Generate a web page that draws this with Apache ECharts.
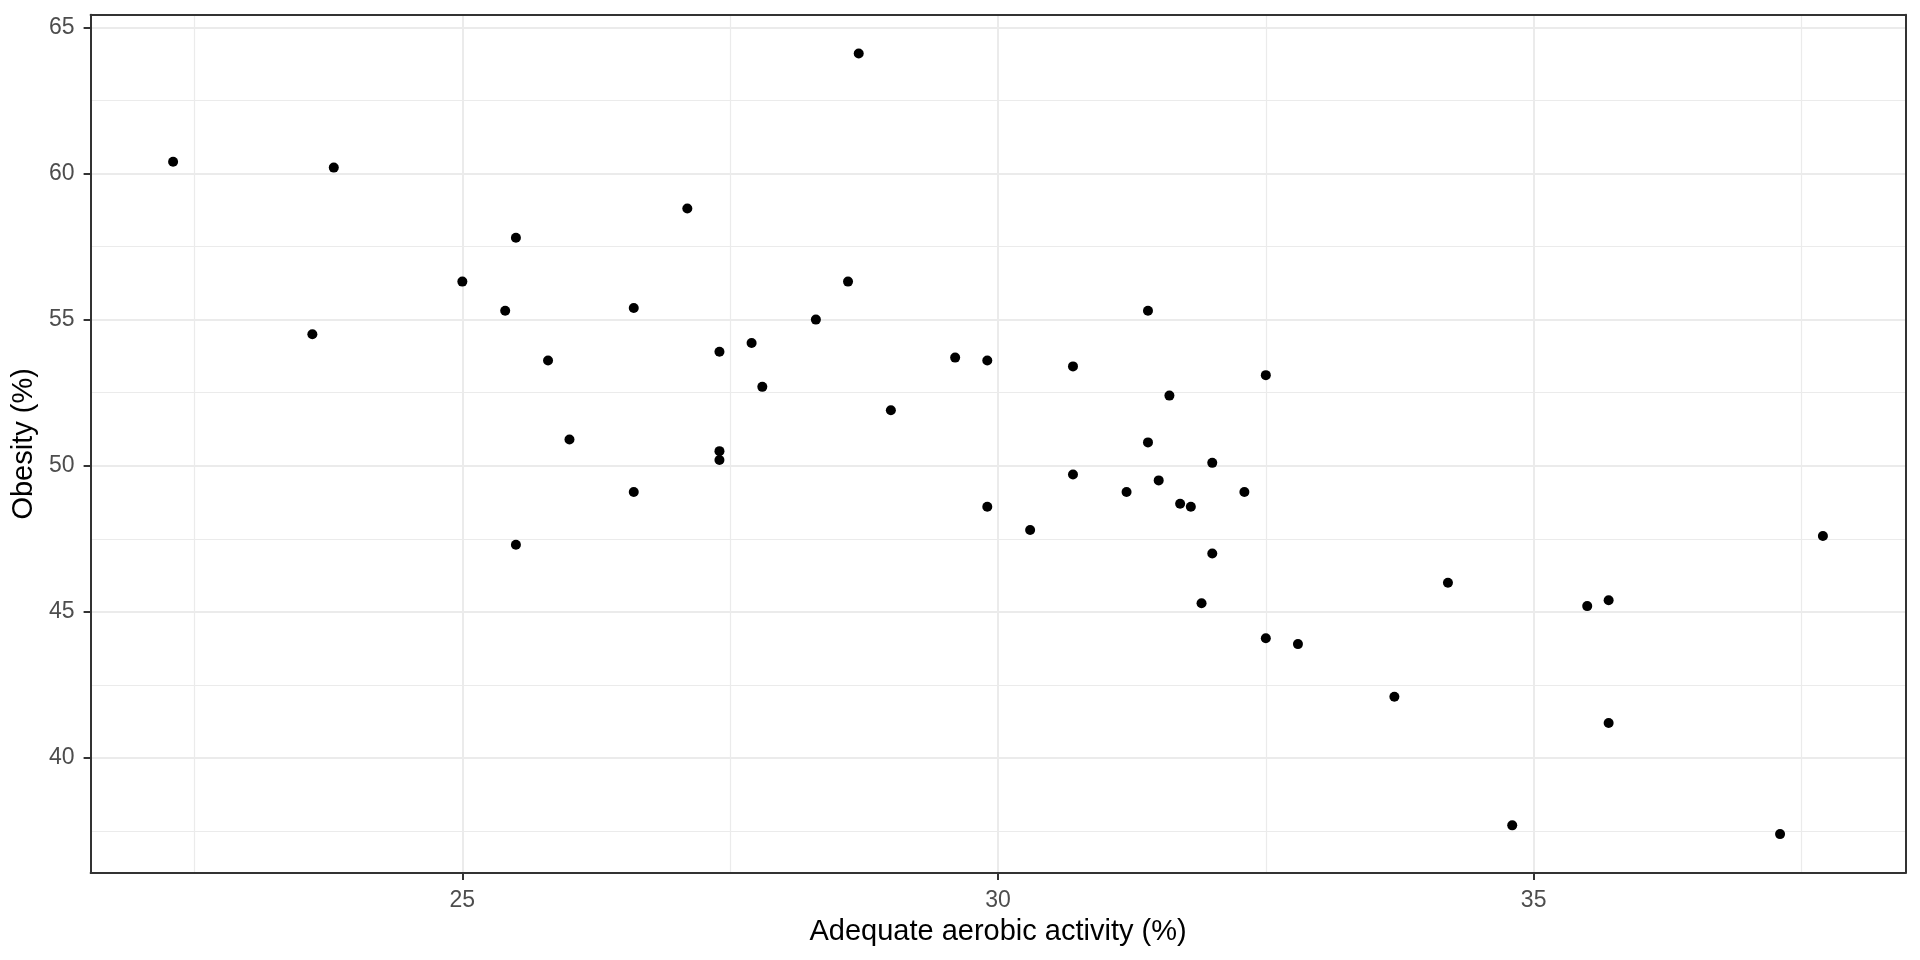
<!DOCTYPE html>
<html>
<head>
<meta charset="utf-8">
<script src="https://cdn.jsdelivr.net/npm/echarts@6/dist/echarts.min.js"></script>
<style>
  html, body { margin: 0; padding: 0; background: #fff; }
  #chart { width: 1920px; height: 960px; }
</style>
</head>
<body>
<div id="chart"></div>
<script>
// values
const aerobic = [
  22.3, 23.8, 23.6, 25.0, 25.5, 25.4, 25.8, 26.0, 25.5, 26.6,
  26.6, 27.1, 27.4, 27.4, 27.4, 27.7, 27.8, 28.3, 28.6, 28.7,
  29.0, 29.6, 29.9, 29.9, 30.3, 30.7, 30.7, 31.2, 31.4, 31.4,
  31.5, 31.6, 31.7, 31.8, 31.9, 32.0, 32.0, 32.3, 32.5, 32.5,
  32.8, 33.7, 34.2, 34.8, 35.5, 35.7, 35.7, 37.3, 37.7
];
const obesity = [
  60.4, 60.2, 54.5, 56.3, 57.8, 55.3, 53.6, 50.9, 47.3, 55.4,
  49.1, 58.8, 53.9, 50.5, 50.2, 54.2, 52.7, 55.0, 56.3, 64.1,
  51.9, 53.7, 53.6, 48.6, 47.8, 53.4, 49.7, 49.1, 55.3, 50.8,
  49.5, 52.4, 48.7, 48.6, 45.3, 50.1, 47.0, 49.1, 53.1, 44.1,
  43.9, 42.1, 46.0, 37.7, 45.2, 45.4, 41.2, 37.4, 47.6
];
const xTicks = [25, 30, 35];
const xMinor = [22.5, 27.5, 32.5, 37.5];
const yTicks = [40, 45, 50, 55, 60, 65];
const yMinor = [37.5, 42.5, 47.5, 52.5, 57.5, 62.5];
const xRange = [21.53, 38.47];
const yRange = [36.07, 65.43];

const chart = echarts.init(document.getElementById("chart"));
const font = "Liberation Sans";
const grid = "#EBEBEB";
const ink = "#333333";

function mainAxis(range, ticks, pos, label) {
  return {
    type: "value",
    position: pos,
    min: range[0],
    max: range[1],
    axisLine: { show: true, onZero: false, lineStyle: { color: ink, width: 2 } },
    axisTick: { show: true, length: 7, customValues: ticks, lineStyle: { color: ink, width: 2 } },
    axisLabel: Object.assign({ customValues: ticks, color: "#4D4D4D", fontFamily: font, fontSize: 23 }, label),
    splitLine: { show: true, lineStyle: { color: grid, width: 2 } },
  };
}

function minorAxis(range, ticks, pos) {
  return {
    type: "value",
    position: pos,
    min: range[0],
    max: range[1],
    axisLine: { show: true, onZero: false, lineStyle: { color: ink, width: 2 } },
    axisTick: { show: false, customValues: ticks },
    axisLabel: { show: false, customValues: ticks },
    splitLine: { show: true, lineStyle: { color: grid, width: 1.2 } },
  };
}

const xMain = mainAxis(xRange, xTicks, "bottom", { margin: 16 });
xMain.name = "Adequate aerobic activity (%)";
xMain.nameLocation = "middle";
xMain.nameGap = 44;
xMain.nameTextStyle = { color: "#000", fontFamily: font, fontSize: 29 };

const yMain = mainAxis(yRange, yTicks, "left", { margin: 16 });
yMain.name = "Obesity (%)";
yMain.nameLocation = "middle";
yMain.nameGap = 47;
yMain.nameTextStyle = { color: "#000", fontFamily: font, fontSize: 29 };

chart.setOption({
  animation: false,
  grid: { left: 90.6, right: 14.6, top: 14.7, bottom: 87, containLabel: false, outerBoundsMode: "none" },
  xAxis: [xMain, minorAxis(xRange, xMinor, "top")],
  yAxis: [yMain, minorAxis(yRange, yMinor, "right")],
  series: [
    {
      type: "scatter",
      xAxisIndex: 0,
      yAxisIndex: 0,
      data: aerobic.map((x, i) => [x, obesity[i]]),
      symbolSize: 10,
      itemStyle: { color: "#000", opacity: 1 },
    },
  ],
});

window.addEventListener("resize", () => chart && chart.resize());
</script>
</body>
</html>
